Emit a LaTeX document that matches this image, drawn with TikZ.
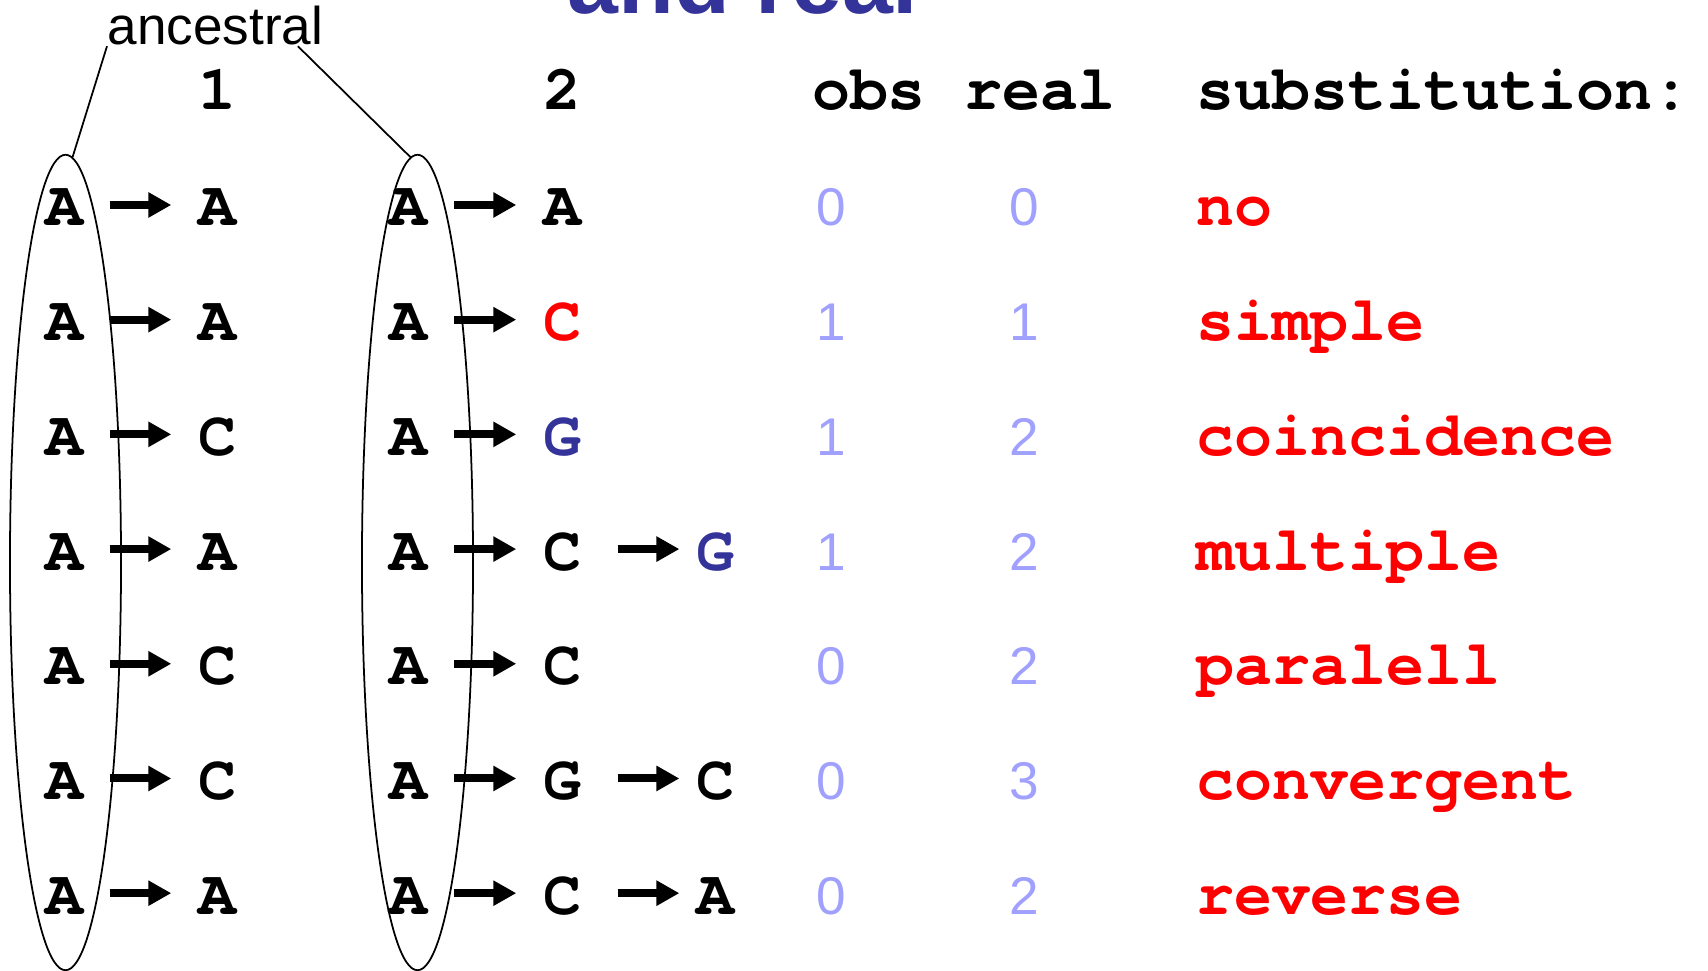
\documentclass[tikz,border=0pt]{standalone}
\usepackage{fontspec}
\setmainfont{Liberation Sans}
\setmonofont{TeX Gyre Cursor}
\usepackage{xcolor}
\usetikzlibrary{arrows.meta,shapes.geometric}

\definecolor{titleblue}{RGB}{51,51,153}
\definecolor{countblue}{RGB}{160,160,255}
\definecolor{subred}{RGB}{255,0,0}

\begin{document}
\begin{tikzpicture}[x=0.01cm, y=-0.01cm,
    nuc/.style={font=\ttfamily\bfseries\fontsize{18}{20}\selectfont, anchor=base,
        inner xsep=0.26cm, inner ysep=0.1cm, text height=0.42cm, text depth=0cm},
    word/.style={font=\ttfamily\bfseries\fontsize{18}{20}\selectfont, anchor=base west, inner sep=0pt},
    count/.style={font=\fontsize{15.1}{18}\selectfont, text=countblue, anchor=base, inner sep=0pt},
    fat/.style={line width=0.08cm, -{Triangle[length=0.23cm, width=0.24cm]}},
    pool/.style={draw, line width=0.5pt, ellipse, inner sep=0pt, minimum width=1.11cm, minimum height=8.15cm}]
    \useasboundingbox (0,0) rectangle (1708,971);

    % Title, cut off by the top edge
    \begin{scope}
        \clip (0,0) rectangle (1708,971);
        \node[font=\bfseries\fontsize{26}{30}\selectfont, text=titleblue, anchor=base west, inner sep=0pt]
            (title) at (567,14) {and real};
    \end{scope}

    % Column heads
    \node[nuc] (head-1) at (217,110) {1};
    \node[nuc] (head-2) at (562,110) {2};
    \node[nuc] (head-obs) at (869,110) {obs};
    \node[nuc] (head-real) at (1040,110) {real};
    \node[word] (head-sub) at (1196,110) {substitution:};

    % Ancestral pools
    \node[pool] (pool-1) at (65.5,562.5) {};
    \node[pool] (pool-2) at (417.5,562.5) {};
    \node[font=\fontsize{15.1}{18}\selectfont, anchor=base west, inner sep=0pt] (ancestral) at (107,45) {ancestral};
    \draw[line width=0.5pt] (ancestral.south west) -- (pool-1.89);
    \draw[line width=0.5pt] ([xshift=-0.26cm]ancestral.south east) -- (pool-2.91);

    % One row per site
    \foreach \b/\c/\o/\r/\s [count=\i] in {A/A/0/0/no, A/{\color{subred}C}/1/1/simple,
        C/{\color{titleblue}G}/1/2/coincidence, A/C/1/2/multiple, C/C/0/2/paralell,
        C/G/0/3/convergent, A/C/0/2/reverse}
    {
        \pgfmathsetmacro\y{226+114.7*(\i-1)}
        \node[nuc] (anc-\i) at (64,\y) {A};
        \node[nuc] (one-\i) at (217,\y) {\b};
        \node[nuc] (anc2-\i) at (408.5,\y) {A};
        \node[nuc] (two-\i) at (562,\y) {\c};
        \draw[fat] (anc-\i) -- (one-\i);
        \draw[fat] (anc2-\i) -- (two-\i);
        \node[count] (obs-\i) at (831,\y) {\o};
        \node[count] (real-\i) at (1024,\y) {\r};
        \node[word, text=subred] (sub-\i) at (1196,\y) {\s};
    }

    % Second change on the same site
    \foreach \i/\d in {4/{\color{titleblue}G}, 6/C, 7/A}
    {
        \node[nuc] (three-\i) at ([xshift=1.53cm]two-\i.base) {\d};
        \draw[fat, shorten <=0.1cm, shorten >=-0.1cm] (two-\i) -- (three-\i);
    }

\end{tikzpicture}
\end{document}
